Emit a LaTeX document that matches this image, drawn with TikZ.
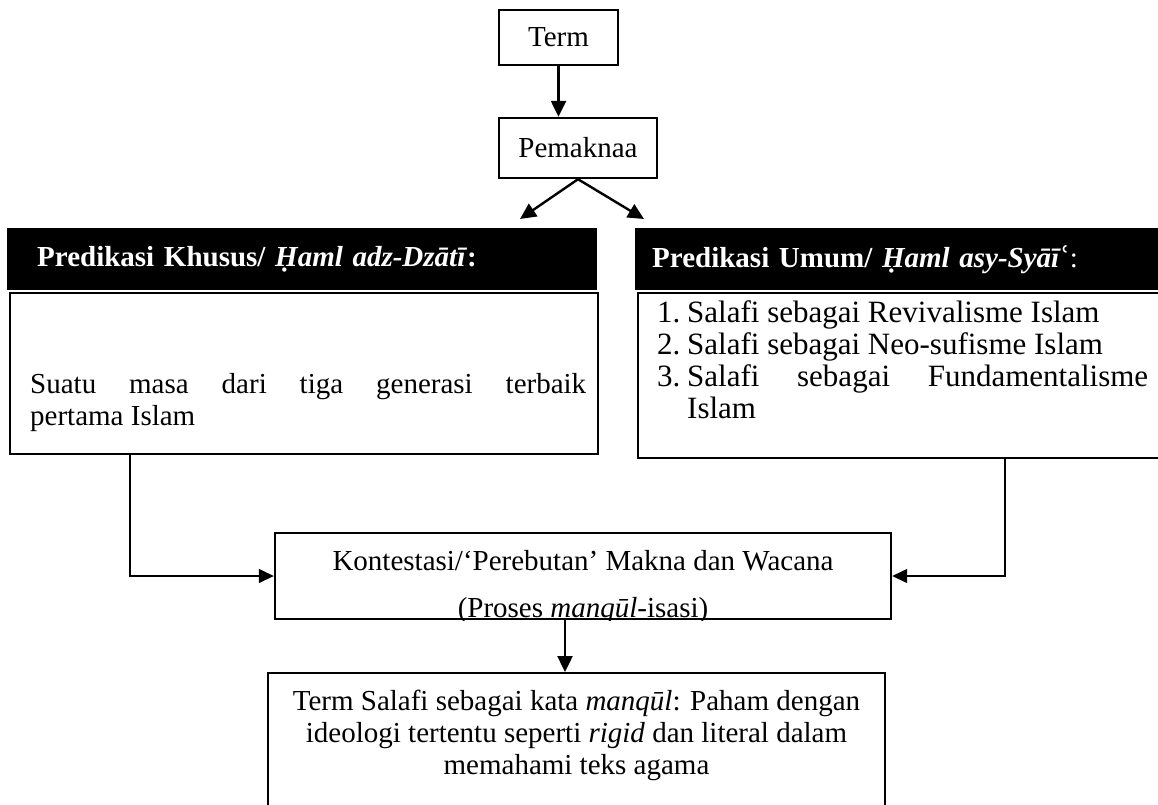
\documentclass[tikz,border=0pt]{standalone}
\usepackage{fontspec}
\setmainfont{Liberation Serif}
\newfontfamily\ainfont{DejaVu Serif}
\usetikzlibrary{positioning,arrows.meta}

\tikzset{
  frame/.style={draw, line width=2.4pt, inner sep=0pt},
  headbar/.style={fill=black, text=white, font=\fontsize{29}{32}\selectfont\bfseries,
    anchor=north west, inner ysep=0pt, minimum height=62pt},
  arr/.style={line width=2.4pt, -{Triangle[length=16pt,width=15pt]}},
  elbow/.style={line width=1.4pt, -{Triangle[length=15pt,width=14pt]}},
}

\begin{document}
\begin{tikzpicture}[x=1pt,y=-1pt,font=\fontsize{29}{32}\selectfont]
\useasboundingbox (0,0) rectangle (1158,804);
\clip (0,0) rectangle (1158,804);

% top
\node[frame, minimum width=119pt, minimum height=55pt] (term) at (558.5,37.5) {Term};
\node[frame, minimum width=158pt, minimum height=60pt] (makna) at (578,148) {Pemaknaa};
\coordinate (tipL) at (520,219);
\coordinate (tipR) at (644,219);
\draw[arr] (term.south) -- (term.south |- makna.north);
\draw[arr] (makna.south) -- (tipL);
\draw[arr] (makna.south) -- (tipR);

% left: predikasi khusus
\node[headbar, text width=530pt, inner xsep=30pt, align=left] (khusushead) at (7,228)
  {Predikasi Khusus/ \textit{Ḥaml adz-Dzātī}:};
\node[frame, anchor=north west, minimum width=588pt, minimum height=161pt] (khusus) at (9,292) {};
\node[anchor=north west, inner sep=0pt, align=left] (khusustext) at (30,373)
  {\makebox[556pt][s]{Suatu masa dari tiga generasi terbaik}\\pertama Islam};

% right: predikasi umum
\node[headbar, text width=520pt, inner xsep=17pt, align=left] (umumhead) at (635,228)
  {Predikasi Umum/ \textit{Ḥaml asy-Syāī}{\mdseries\ainfont ʿ}{\mdseries :}};
\node[frame, anchor=north west, minimum width=560pt, minimum height=165pt] (umum) at (637,292) {};
\node[anchor=north west, inner sep=0pt, align=left, font=\fontsize{31}{32}\selectfont]
  (umumlist) at (657,300)
  {\makebox[30pt][l]{1.}Salafi sebagai Revivalisme Islam\\
   \makebox[30pt][l]{2.}Salafi sebagai Neo-sufisme Islam\\
   \makebox[30pt][l]{3.}\makebox[461pt][s]{Salafi sebagai Fundamentalisme}\\
   \hspace*{30pt}Islam};

% middle
\node[frame, minimum width=616pt, minimum height=86pt] (kontes) at (583,576) {};
\begin{scope}
  \clip (kontes.south west) rectangle (kontes.north east);
  \node[anchor=base] (kontesA) at (583,570) {Kontestasi/‘Perebutan’ Makna dan Wacana};
  \node[anchor=base] (kontesB) at (583,617) {(Proses \textit{manqūl}-isasi)};
\end{scope}
\draw[elbow] ([xshift=121pt]khusus.south west) |- (kontes.west);
\draw[elbow] ([xshift=368pt]umum.south west) |- (kontes.east);

% bottom
\coordinate (down) at (565,0);
\node[frame, anchor=north, minimum width=617pt, minimum height=160pt] (hasil) at (576.5,672) {};
\node[anchor=north, align=center, inner sep=0pt] (hasiltext) at (576.5,690)
  {Term Salafi sebagai kata \textit{manqūl}: Paham dengan\\
   ideologi tertentu seperti \textit{rigid} dan literal dalam\\
   memahami teks agama};
\draw[arr] (kontes.south -| down) -- (hasil.north -| down);
\end{tikzpicture}
\end{document}
